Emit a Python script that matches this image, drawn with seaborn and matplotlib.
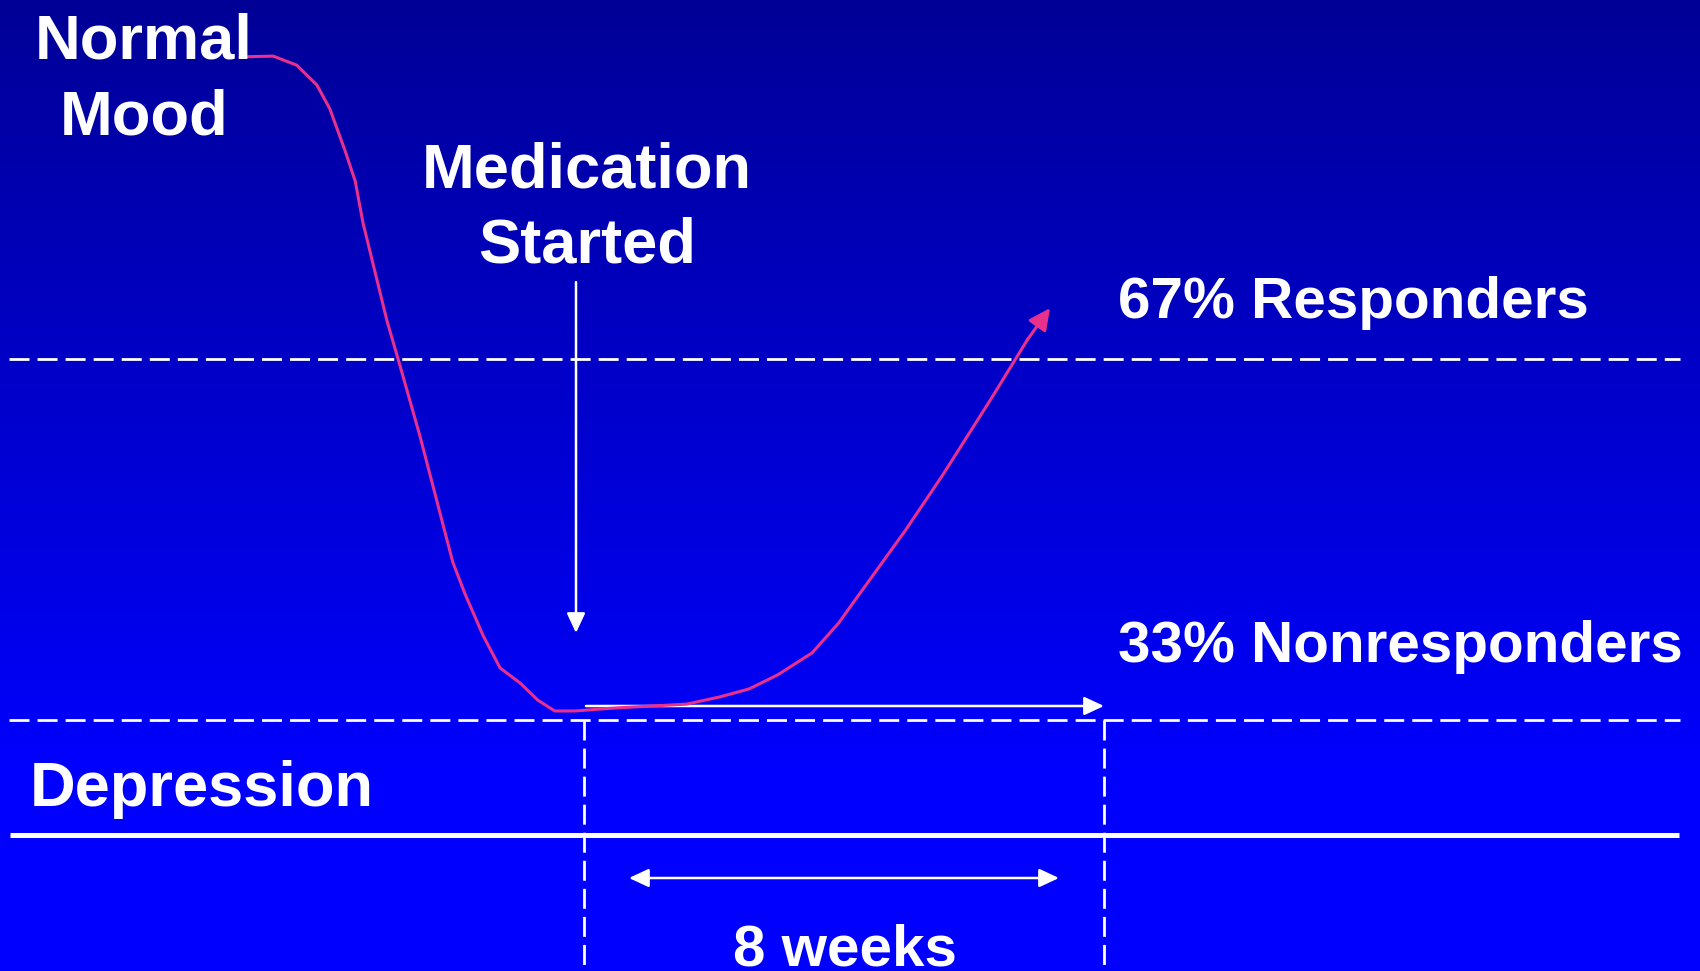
import numpy as np
import pandas as pd
import matplotlib
matplotlib.use("Agg")
import matplotlib.pyplot as plt
import seaborn as sns

sns.set_theme(style="white")
plt.rcParams["font.family"] = ["Liberation Sans", "DejaVu Sans"]

# time in weeks (0 = medication started), mood score (0 = depression line)
weeks = [-5.29, -4.78, -4.42, -4.11, -3.91, -3.68, -3.52, -3.40, -3.03, -2.83,
         -2.52, -2.02, -1.83, -1.55, -1.29, -0.98, -0.71, -0.45, -0.14, 0.45,
         1.58, 2.09, 2.54, 2.98, 3.51, 3.92, 4.17, 4.94, 5.52, 6.25,
         6.63, 6.82, 7.17]
mood = [18.37, 18.39, 18.14, 17.59, 16.93, 15.79, 14.93, 13.77, 11.05, 9.81,
        7.84, 4.38, 3.49, 2.33, 1.44, 1.02, 0.55, 0.25, 0.25, 0.33,
        0.44, 0.64, 0.86, 1.25, 1.86, 2.69, 3.32, 5.24, 6.79, 8.86,
        9.97, 10.53, 11.41]

responder_level = 10.0
depression_level = 0.0
floor_level = -3.19
trial_weeks = [0, 8]

labels_big = ["Normal\nMood", "Medication\nStarted", "Depression"]
labels_small = ["67% Responders", "33% Nonresponders", "8 weeks"]

PINK = "#E8308C"
WHITE = "white"

# view window (weeks / mood units)
X_MIN, X_MAX = -8.985, 17.17
Y_MIN, Y_MAX = -6.953, 19.945
LINE_X0, LINE_X1 = -8.846, 16.862

fig = plt.figure(figsize=(17, 9.71), dpi=100)
ax = fig.add_axes([0, 0, 1, 1])

# vertical blue gradient background
n = 512
frac = np.linspace(0, 1, n)[:, None]
blue = np.clip(0x96 / 255 + (1 - 0x96 / 255) * frac / 0.80, 0, 1)
grad = np.dstack([np.zeros_like(blue), np.zeros_like(blue), blue])
ax.imshow(grad, extent=[X_MIN, X_MAX, Y_MIN, Y_MAX], origin="upper",
          aspect="auto", zorder=0, interpolation="bilinear")

dash = (0, (7.2, 2.9))
ax.plot([LINE_X0, LINE_X1], [responder_level] * 2, color=WHITE, lw=2, ls=dash, zorder=2)
ax.plot([LINE_X0, LINE_X1], [depression_level] * 2, color=WHITE, lw=2, ls=dash, zorder=2)
ax.plot([LINE_X0 + 0.015, LINE_X1 - 0.015], [floor_level] * 2, color=WHITE, lw=3.6,
        solid_capstyle="butt", zorder=2)
for w in trial_weeks:
    ax.plot([w, w], [depression_level, Y_MIN], color=WHITE, lw=2, ls=dash, zorder=2)

# mood curve
df = pd.DataFrame({"week": weeks, "mood": mood})
sns.lineplot(data=df.iloc[:-1], x="week", y="mood", sort=False, estimator=None,
             color=PINK, lw=2.2, ax=ax, zorder=4)
ax.annotate("", xy=(weeks[-1], mood[-1]), xytext=(weeks[-2], mood[-2]),
            arrowprops=dict(arrowstyle="-|>,head_length=0.65,head_width=0.32",
                            color=PINK, lw=2.2, mutation_scale=20,
                            shrinkA=0, shrinkB=0), zorder=4)

head = "-|>,head_length=0.6,head_width=0.28"
arrow_kw = dict(color=WHITE, lw=1.8, mutation_scale=20, shrinkA=0, shrinkB=0)
# medication started
ax.annotate("", xy=(-0.123, 2.41), xytext=(-0.123, 12.13),
            arrowprops=dict(arrowstyle=head, **arrow_kw), zorder=3)
# nonresponder path
ax.annotate("", xy=(trial_weeks[1], 0.388), xytext=(0.03, 0.388),
            arrowprops=dict(arrowstyle=head, **arrow_kw), zorder=3)
# 8 week span
ax.annotate("", xy=(7.308, -4.377), xytext=(0.692, -4.377),
            arrowprops=dict(arrowstyle="<|-|>,head_length=0.6,head_width=0.28", **arrow_kw),
            zorder=3)

# multi-line labels are anchored on the baseline of their last line
big = dict(color=WHITE, fontsize=45.5, fontweight="bold", va="baseline",
           linespacing=1.36, zorder=5)
small = dict(color=WHITE, fontsize=42, fontweight="bold", va="baseline", zorder=5)
ax.text(-6.77, 16.23, labels_big[0], ha="center", multialignment="center", **big)
ax.text(0.05, 12.66, labels_big[1], ha="center", multialignment="center", **big)
ax.text(-8.52, -2.38, labels_big[2], ha="left", **big)
ax.text(8.215, 11.14, labels_small[0], ha="left", **small)
ax.text(8.215, 1.595, labels_small[1], ha="left", **small)
ax.text(4.015, -6.79, labels_small[2], ha="center", **small)

ax.set_xlim(X_MIN, X_MAX)
ax.set_ylim(Y_MIN, Y_MAX)
ax.set_axis_off()

fig.savefig("out.png", dpi=100)
plt.close(fig)
